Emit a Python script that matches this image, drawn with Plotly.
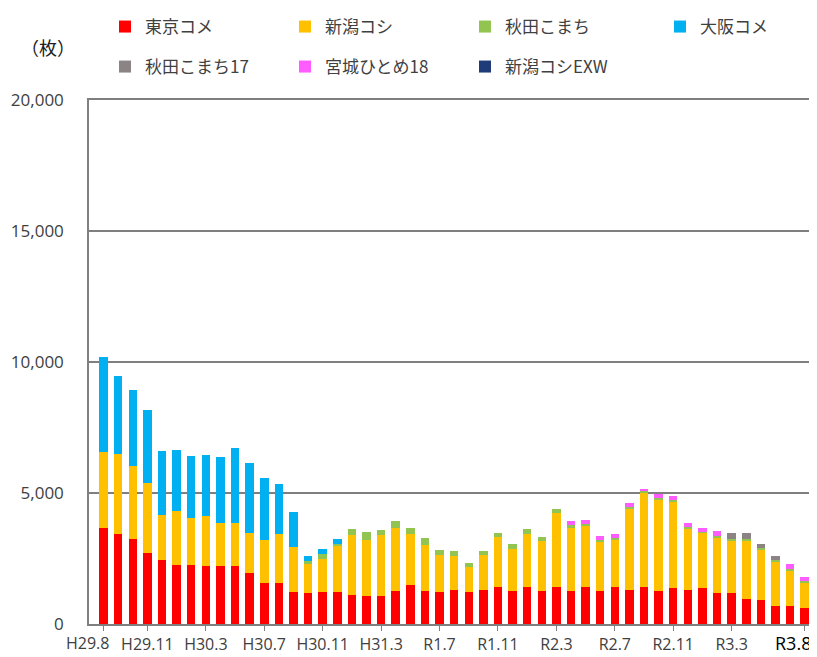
import plotly.graph_objects as go

# ---- data ----
months = list(range(49))  # H29.8 (index 0) ... R3.8 (index 48), monthly
tick_idx = [0, 3, 7, 11, 15, 19, 23, 27, 31, 35, 39, 43, 48]
tick_labels = ["H29.8", "H29.11", "H30.3", "H30.7", "H30.11", "H31.3", "R1.7",
               "R1.11", "R2.3", "R2.7", "R2.11", "R3.3", "R3.8"]

tokyo_kome = [3660, 3450, 3260, 2710, 2460, 2270, 2240, 2200, 2200, 2200, 1930, 1570, 1580,
              1220, 1200, 1220, 1220, 1120, 1070, 1070, 1270, 1470, 1270, 1230, 1300, 1230,
              1300, 1420, 1270, 1420, 1270, 1420, 1270, 1420, 1270, 1410, 1300, 1410, 1270,
              1390, 1310, 1390, 1200, 1200, 970, 920, 690, 690, 600]
niigata_koshi = [2910, 3040, 2770, 2690, 1690, 2060, 1800, 1940, 1650, 1650, 1550, 1620, 1870,
                 1720, 1080, 1280, 1760, 2290, 2140, 2310, 2400, 1970, 1760, 1420, 1280, 940,
                 1320, 1900, 1580, 2030, 1890, 2810, 2400, 2320, 1860, 1820, 3120, 3610, 3490,
                 3300, 2350, 2090, 2100, 2000, 2200, 1920, 1680, 1360, 970]
akita_komachi = [0, 0, 0, 0, 0, 0, 0, 0, 0, 0, 0, 0, 0,
                 0, 110, 190, 90, 220, 290, 220, 250, 230, 250, 190, 200, 170,
                 160, 150, 190, 160, 160, 170, 90, 90, 60, 60, 60, 40, 60,
                 50, 60, 50, 50, 60, 60, 60, 60, 50, 60]
osaka_kome = [3630, 2970, 2900, 2760, 2440, 2320, 2360, 2320, 2510, 2850, 2650, 2370, 1910,
              1330, 190, 180, 170, 0, 0, 0, 0, 0, 0, 0, 0, 0,
              0, 0, 0, 0, 0, 0, 0, 0, 0, 0, 0, 0, 0,
              0, 0, 0, 0, 0, 0, 0, 0, 0, 0]
akita_komachi17 = [0] * 43 + [210, 240, 170, 150, 0, 0]
miyagi_hitome18 = [0] * 32 + [170, 150, 150, 130, 130, 100, 150, 140, 140, 130, 200,
                              0, 0, 0, 0, 180, 170]
niigata_koshi_exw = [0] * 49

series = [
    ("東京コメ", tokyo_kome, "#FF0000", "legend"),
    ("新潟コシ", niigata_koshi, "#FFC000", "legend"),
    ("秋田こまち", akita_komachi, "#92C451", "legend"),
    ("大阪コメ", osaka_kome, "#00B0F0", "legend3"),
    ("秋田こまち17", akita_komachi17, "#8C8484", "legend2"),
    ("宮城ひとめ18", miyagi_hitome18, "#FF5CFF", "legend2"),
    ("新潟コシEXW", niigata_koshi_exw, "#1F3C78", "legend2"),
]

fig = go.Figure()
for name, vals, color, lg in series:
    fig.add_trace(go.Bar(x=months, y=vals, name=name, marker_color=color,
                         marker_line_width=0, legend=lg))

# first and last labels are drawn as annotations (offset like the original)
ticktext = [""] + tick_labels[1:-1] + [""]

# figure is placed by the page at an 8px offset; size it to fill the window
W, H = 809, 649
legend_font = dict(family="Noto Sans CJK JP", size=17, color="#404040")


def make_legend(x_px, y_px):
    return dict(orientation="h", xref="container", yref="container",
                x=x_px / W, y=1 - y_px / H, xanchor="left", yanchor="middle",
                entrywidth=135, entrywidthmode="pixels", traceorder="normal",
                font=legend_font, bgcolor="rgba(0,0,0,0)", itemclick=False,
                itemdoubleclick=False)


fig.update_layout(
    width=W, height=H,
    margin=dict(l=81, r=5, t=92, b=33, autoexpand=False),
    plot_bgcolor="white", paper_bgcolor="white",
    barmode="stack", bargap=0.42,
    font=dict(family="Open Sans", color="#404040"),
    legend=make_legend(97, 19),
    legend2=make_legend(97, 59),
    legend3=make_legend(97 + 3 * 185, 19),
    xaxis=dict(range=[-1.0, 48.5], tickmode="array", tickvals=tick_idx, ticktext=ticktext,
               tickangle=0, automargin=False,
               ticks="outside", ticklen=5, tickcolor="#808080", showline=True, mirror=True,
               linecolor="#7F7F7F", linewidth=1.5, showgrid=False, zeroline=False,
               tickfont=dict(family="Open Sans", size=16, color="#404040")),
    yaxis=dict(range=[0, 20000], tickmode="array", tickvals=[0, 5000, 10000, 15000, 20000],
               tickformat=",", showgrid=True, gridcolor="#7F7F7F", gridwidth=1.5,
               showline=True, linecolor="#808080", linewidth=1.5, zeroline=False,
               ticks="", ticklabelstandoff=20, automargin=False,
               tickfont=dict(family="Open Sans", size=17, color="#404040")),
    annotations=[
        dict(text="（枚）", xref="paper", yref="paper", x=(48 - 89) / 723,
             y=(624 - 47) / 524, showarrow=False, xanchor="center", yanchor="middle",
             font=dict(family="Noto Sans CJK JP", size=18, color="#202020")),
        dict(text=tick_labels[0], xref="x", yref="paper", x=tick_idx[0], y=0,
             xanchor="center", yanchor="top", xshift=-16, yshift=-6, showarrow=False,
             font=dict(family="Open Sans", size=16, color="#404040")),
        dict(text=tick_labels[-1], xref="x", yref="paper", x=tick_idx[-1], y=0,
             xanchor="center", yanchor="top", xshift=-12, yshift=-5, showarrow=False,
             font=dict(family="Open Sans", size=18, color="#000000")),
    ],
)

fig.write_html("out.html")
